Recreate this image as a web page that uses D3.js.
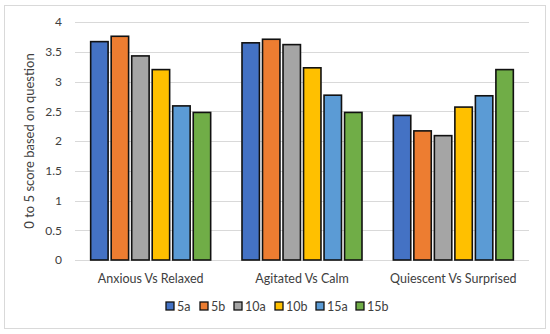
<!DOCTYPE html>
<html>
<head>
<meta charset="utf-8">
<script src="https://cdn.jsdelivr.net/npm/d3@7"></script>
<style>
  body { margin: 0; background: #fff; }
  text { font-family: Lato, "Open Sans", sans-serif; fill: #404040; }
</style>
</head>
<body>
<div id="chart"></div>
<script>
// data
const categories = ["Anxious Vs Relaxed", "Agitated Vs Calm", "Quiescent Vs Surprised"];
const seriesNames = ["5a", "5b", "10a", "10b", "15a", "15b"];
const s5a  = [3.67, 3.65, 2.43];
const s5b  = [3.76, 3.71, 2.17];
const s10a = [3.43, 3.62, 2.09];
const s10b = [3.20, 3.23, 2.57];
const s15a = [2.59, 2.77, 2.76];
const s15b = [2.48, 2.48, 3.20];
const yTicks = [0, 0.5, 1, 1.5, 2, 2.5, 3, 3.5, 4];
const colors = ["#4472C4", "#ED7D31", "#A5A5A5", "#FFC000", "#5B9BD5", "#70AD47"];

const allSeries = [s5a, s5b, s10a, s10b, s15a, s15b];

const width = 550, height = 334;
const margin = { top: 22, bottom: 74, left: 75, right: 21 };

const svg = d3.select("#chart")
  .append("svg")
  .attr("width", width)
  .attr("height", height);

// outer frame
svg.append("rect")
  .attr("x", 4.5).attr("y", 5.5)
  .attr("width", 541).attr("height", 323)
  .attr("fill", "#fff")
  .attr("stroke", "#d9d9d9");

const x0 = d3.scaleBand()
  .domain(categories)
  .range([margin.left, width - margin.right]);

const x1 = d3.scaleBand()
  .domain(seriesNames)
  .range([0, 120])
  .paddingInner(0.15)
  .paddingOuter(0);

const y = d3.scaleLinear()
  .domain([0, 4])
  .range([height - margin.bottom, margin.top]);

// gridlines
svg.append("g")
  .selectAll("line")
  .data(yTicks)
  .join("line")
  .attr("x1", margin.left)
  .attr("x2", width - margin.right)
  .attr("y1", d => Math.round(y(d)) + 0.5)
  .attr("y2", d => Math.round(y(d)) + 0.5)
  .attr("stroke", "#d9d9d9");

// y axis labels
const yAxis = d3.axisLeft(y).tickValues(yTicks).tickSize(0).tickPadding(0).tickFormat(d => d);
svg.append("g")
  .attr("transform", `translate(${62},0)`)
  .call(yAxis)
  .call(g => g.select(".domain").remove())
  .selectAll("text")
  .style("font-size", "12px")
  .attr("fill", "#595959");

// y title
svg.append("text")
  .attr("transform", `translate(34,${y(2)}) rotate(-90)`)
  .attr("text-anchor", "middle")
  .style("font-size", "13px")
  .attr("fill", "#404040")
  .text("0 to 5 score based on question");

// bars
const groups = svg.append("g")
  .selectAll("g")
  .data(categories)
  .join("g")
  .attr("transform", d => `translate(${x0(d) + (x0.bandwidth() - 120) / 2},0)`);

groups.selectAll("rect")
  .data((c, i) => seriesNames.map((s, j) => ({ s, j, v: allSeries[j][i] })))
  .join("rect")
  .attr("x", d => x1(d.s))
  .attr("y", d => y(d.v))
  .attr("width", x1.bandwidth())
  .attr("height", d => y(0) - y(d.v))
  .attr("fill", d => colors[d.j])
  .attr("stroke", "#111")
  .attr("stroke-width", 1.6);

// category labels
svg.append("g")
  .attr("transform", `translate(0,${y(0)})`)
  .call(d3.axisBottom(x0).tickSize(0).tickPadding(14))
  .call(g => g.select(".domain").remove())
  .selectAll("text")
  .style("font-size", "12.5px")
  .attr("fill", "#404040");

// legend
const legendX = [166, 200, 234, 275, 316, 356];
const legend = svg.append("g")
  .selectAll("g")
  .data(seriesNames)
  .join("g")
  .attr("transform", (d, i) => `translate(${legendX[i]},${302})`);

legend.append("rect")
  .attr("width", 8).attr("height", 8)
  .attr("fill", (d, i) => colors[i])
  .attr("stroke", "#111")
  .attr("stroke-width", 1.3);

legend.append("text")
  .attr("x", 11)
  .attr("y", 8.5)
  .style("font-size", "12.5px")
  .attr("fill", "#404040")
  .text(d => d);
</script>
</body>
</html>
